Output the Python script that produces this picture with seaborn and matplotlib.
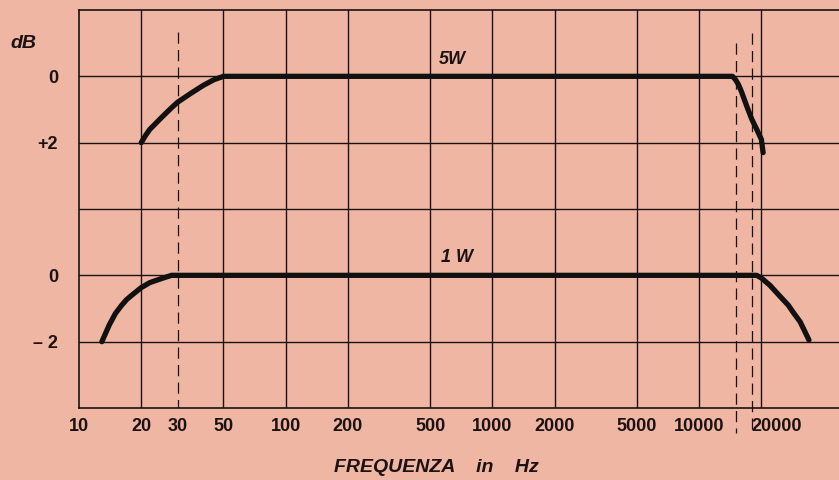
import numpy as np
import pandas as pd
import matplotlib
matplotlib.use("Agg")
import matplotlib.pyplot as plt
import matplotlib.transforms as mtransforms
import seaborn as sns

# frequency response (Hz, dB)
freq_5w = [20, 21, 22, 25, 28, 30, 35, 40, 45, 50, 14500, 15000, 15500, 16000,
           17000, 18000, 19000, 20000, 20400]
db_5w = [-2.0, -1.78, -1.6, -1.25, -0.95, -0.78, -0.5, -0.27, -0.1, 0.0, 0.0,
         -0.1, -0.25, -0.45, -0.9, -1.3, -1.6, -1.9, -2.3]

freq_1w = [12.9, 14, 15, 16, 17, 18, 20, 22, 25, 28, 19000, 20000, 22000,
           24600, 27000, 28400, 30800, 34000]
db_1w = [-2.0, -1.5, -1.15, -0.92, -0.73, -0.6, -0.37, -0.22, -0.1, 0.0, 0.0,
         -0.08, -0.3, -0.63, -0.9, -1.1, -1.4, -1.95]

x_ticks = [10, 20, 30, 50, 100, 200, 500, 1000, 2000, 5000, 10000, 20000]
x_labels = ["10", "20", "30", "50", "100", "200", "500", "1000", "2000",
            "5000", "10000", "20000"]
grid_freqs = [20, 50, 100, 200, 500, 1000, 2000, 5000, 10000, 20000]

y_tick_labels = ["0", "+2", "0", "\u2013 2"]

# vertical placement of the two traces on the shared grid
base_5w = 4
base_1w = -2

bg = "#eeb6a3"
ink = "#1c1212"

sns.set_theme(style="white", rc={"axes.facecolor": bg, "figure.facecolor": bg})
plt.rcParams["font.family"] = ["Liberation Sans", "DejaVu Sans"]

fig = plt.figure(figsize=(8.39, 4.8), dpi=100)
ax = fig.add_axes([79 / 839, 72 / 480, 1 - 79 / 839, 398 / 480])
ax.set_xscale("log")
ax.set_xlim(10, 47500)
ax.set_ylim(-6, 6)

# grid
for f in grid_freqs:
    ax.axvline(f, color=ink, lw=1.0, zorder=1)
for y in [-4, -2, 0, 2, 4]:
    ax.axhline(y, color=ink, lw=1.0, zorder=1)

# dashed markers
ax.plot([30, 30], [5.34, -6], color=ink, lw=0.9, dashes=(9, 5), zorder=1)
ax.plot([15000, 15000], [5.0, -6.75], color=ink, lw=0.9, dashes=(9, 5),
        zorder=1, clip_on=False)
ax.plot([18000, 18000], [5.3, -6.75], color=ink, lw=0.9, dashes=(9, 5),
        zorder=1, clip_on=False)

df5 = pd.DataFrame({"f": freq_5w, "y": np.array(db_5w) + base_5w})
df1 = pd.DataFrame({"f": freq_1w, "y": np.array(db_1w) + base_1w})
sns.lineplot(data=df5, x="f", y="y", ax=ax, color="#111111", lw=3.8,
             estimator=None, sort=False, zorder=3)
sns.lineplot(data=df1, x="f", y="y", ax=ax, color="#111111", lw=3.8,
             estimator=None, sort=False, zorder=3)

ax.set_xticks(x_ticks)
ax.set_xticklabels(x_labels)
ax.xaxis.set_minor_locator(matplotlib.ticker.NullLocator())
ax.set_yticks([4, 2, -2, -4])
ax.set_yticklabels(y_tick_labels)
ax.tick_params(axis="x", length=0, pad=7, labelsize=13, labelcolor=ink)
ax.tick_params(axis="y", length=0, pad=15, labelsize=13, labelcolor=ink)
for lab in ax.get_xticklabels() + ax.get_yticklabels():
    lab.set_fontweight("bold")
# the 20000 label sits right of its grid line in the original
lbl = ax.get_xticklabels()[-1]
lbl.set_transform(lbl.get_transform() + mtransforms.ScaledTranslation(15 / 100, 0, fig.dpi_scale_trans))

ax.set_xlabel("")
ax.set_ylabel("")
for side in ["left", "bottom", "top"]:
    ax.spines[side].set_color(ink)
    ax.spines[side].set_linewidth(1.2)
ax.spines["right"].set_visible(False)

ax.text(638, 4.5, "5W", fontsize=13, fontweight="bold", style="italic",
        color=ink, ha="center", va="center")
ax.text(675, -1.47, "1 W", fontsize=13, fontweight="bold", style="italic",
        color=ink, ha="center", va="center")

fig.text(23 / 839, 1 - 44 / 480, "dB", fontsize=14, fontweight="bold", style="italic",
         color=ink, ha="center", va="center")
fig.text(436 / 839, 1 - 467 / 480, "FREQUENZA    in    Hz", fontsize=14,
         fontweight="bold", style="italic", color=ink, ha="center", va="center")

fig.savefig("out.png", dpi=100, facecolor=bg)
